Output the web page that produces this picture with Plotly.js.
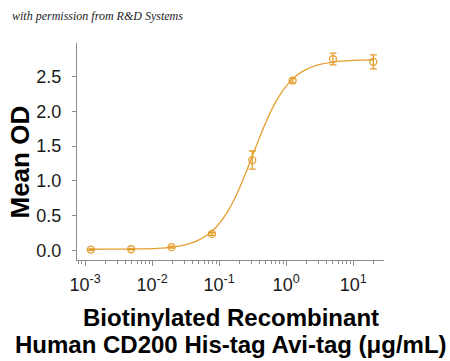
<!DOCTYPE html>
<html>
<head>
<meta charset="utf-8">
<script src="https://cdn.plot.ly/plotly-3.0.1.min.js"></script>
<style>
  html, body { margin: 0; padding: 0; background: #fff; }
  #chart { width: 450px; height: 361px; }
</style>
</head>
<body>
<div id="chart"></div>
<script>
// Measured points (concentration in µg/mL, mean OD, error)
var concentrations = [0.00122, 0.00488, 0.0195, 0.078, 0.3125, 1.25, 5, 20];
var meanOD = [0.015, 0.02, 0.05, 0.24, 1.30, 2.44, 2.75, 2.71];
var odError = [0.01, 0.01, 0.015, 0.02, 0.13, 0.03, 0.085, 0.10];

// Fitted curve
var curveX = [0.0012, 0.002, 0.004, 0.007, 0.012, 0.02, 0.03, 0.045, 0.065, 0.09, 0.13, 0.18, 0.25, 0.35, 0.5, 0.7, 1.0, 1.4, 2, 3, 5, 8, 13, 20];
var curveY = [0.020, 0.021, 0.022, 0.026, 0.034, 0.052, 0.080, 0.133, 0.217, 0.336, 0.54, 0.795, 1.115, 1.477, 1.846, 2.136, 2.362, 2.506, 2.602, 2.666, 2.707, 2.724, 2.733, 2.736];

// Axis ticks
var majorTicks = [0.001, 0.01, 0.1, 1, 10];
var majorTickText = ['10<sup>-3</sup>', '10<sup>-2</sup>', '10<sup>-1</sup>', '10<sup>0</sup>', '10<sup>1</sup>'];
var yTicks = [0, 0.5, 1.0, 1.5, 2.0, 2.5];

var minorTicks = [];
[0.0001].concat(majorTicks).forEach(function (d) {
  for (var k = 2; k <= 9; k++) minorTicks.push(d * k);
});

var color = '#E59E2E';
var axisGray = '#8c8c8c';
var textColor = '#1a1a1a';

var traces = [
  {
    x: curveX, y: curveY, type: 'scatter', mode: 'lines',
    line: { color: color, width: 1.3, shape: 'spline', smoothing: 1 },
    hoverinfo: 'skip', showlegend: false
  },
  {
    x: concentrations, y: meanOD, type: 'scatter', mode: 'markers',
    marker: { symbol: 'circle-open', size: 7, color: color, line: { width: 1.3, color: color } },
    error_y: { type: 'data', array: odError, visible: true, color: color, thickness: 1.3, width: 3.5 },
    showlegend: false
  }
];

var layout = {
  width: 450, height: 361,
  margin: { l: 77, r: 66, t: 43, b: 101 },
  paper_bgcolor: '#ffffff', plot_bgcolor: '#ffffff',
  font: { family: 'Liberation Sans, Arial, sans-serif', color: textColor },
  showlegend: false,
  xaxis: {
    type: 'log',
    range: [-3.12, 1.46],
    tickvals: majorTicks, ticktext: majorTickText,
    ticks: 'outside', ticklen: 5, tickwidth: 1, tickcolor: axisGray,
    showline: true, linecolor: axisGray, linewidth: 1,
    showgrid: false, zeroline: false,
    tickfont: { size: 18, color: textColor },
    ticklabelstandoff: 3,
    minor: { tickvals: minorTicks, ticks: 'outside', ticklen: 3, tickwidth: 1, tickcolor: axisGray, showgrid: false }
  },
  yaxis: {
    range: [-0.134, 2.98],
    tickvals: yTicks, tickformat: '.1f',
    ticks: 'outside', ticklen: 4, tickwidth: 1, tickcolor: axisGray,
    showline: true, linecolor: axisGray, linewidth: 1,
    showgrid: false, zeroline: false,
    tickfont: { size: 18, color: textColor },
    ticklabelstandoff: 7
  },
  annotations: [
    {
      text: 'with permission from R&amp;D Systems',
      xref: 'paper', yref: 'paper', x: -0.218, y: 1.124, xanchor: 'left', yanchor: 'middle',
      showarrow: false,
      font: { family: 'Liberation Serif, DejaVu Serif, serif', size: 12, color: '#222', style: 'italic' }
    },
    {
      text: '<b>Mean OD</b>', textangle: -90,
      xref: 'paper', yref: 'paper', x: 0, y: 0.5, xanchor: 'center', yanchor: 'middle',
      xshift: -58, yshift: -11, showarrow: false,
      font: { size: 26, color: '#000' }
    },
    {
      text: '<b>Biotinylated Recombinant</b>',
      xref: 'paper', yref: 'paper', x: 0.5, y: 0, xanchor: 'center', yanchor: 'middle',
      yshift: -57, showarrow: false,
      font: { size: 24, color: '#000' }
    },
    {
      text: '<b>Human CD200 His-tag Avi-tag (μg/mL)</b>',
      xref: 'paper', yref: 'paper', x: 0.5, y: 0, xanchor: 'center', yanchor: 'middle',
      yshift: -84, showarrow: false,
      font: { size: 24, color: '#000' }
    }
  ]
};

Plotly.newPlot('chart', traces, layout, { displayModeBar: false, staticPlot: true });
</script>
</body>
</html>
